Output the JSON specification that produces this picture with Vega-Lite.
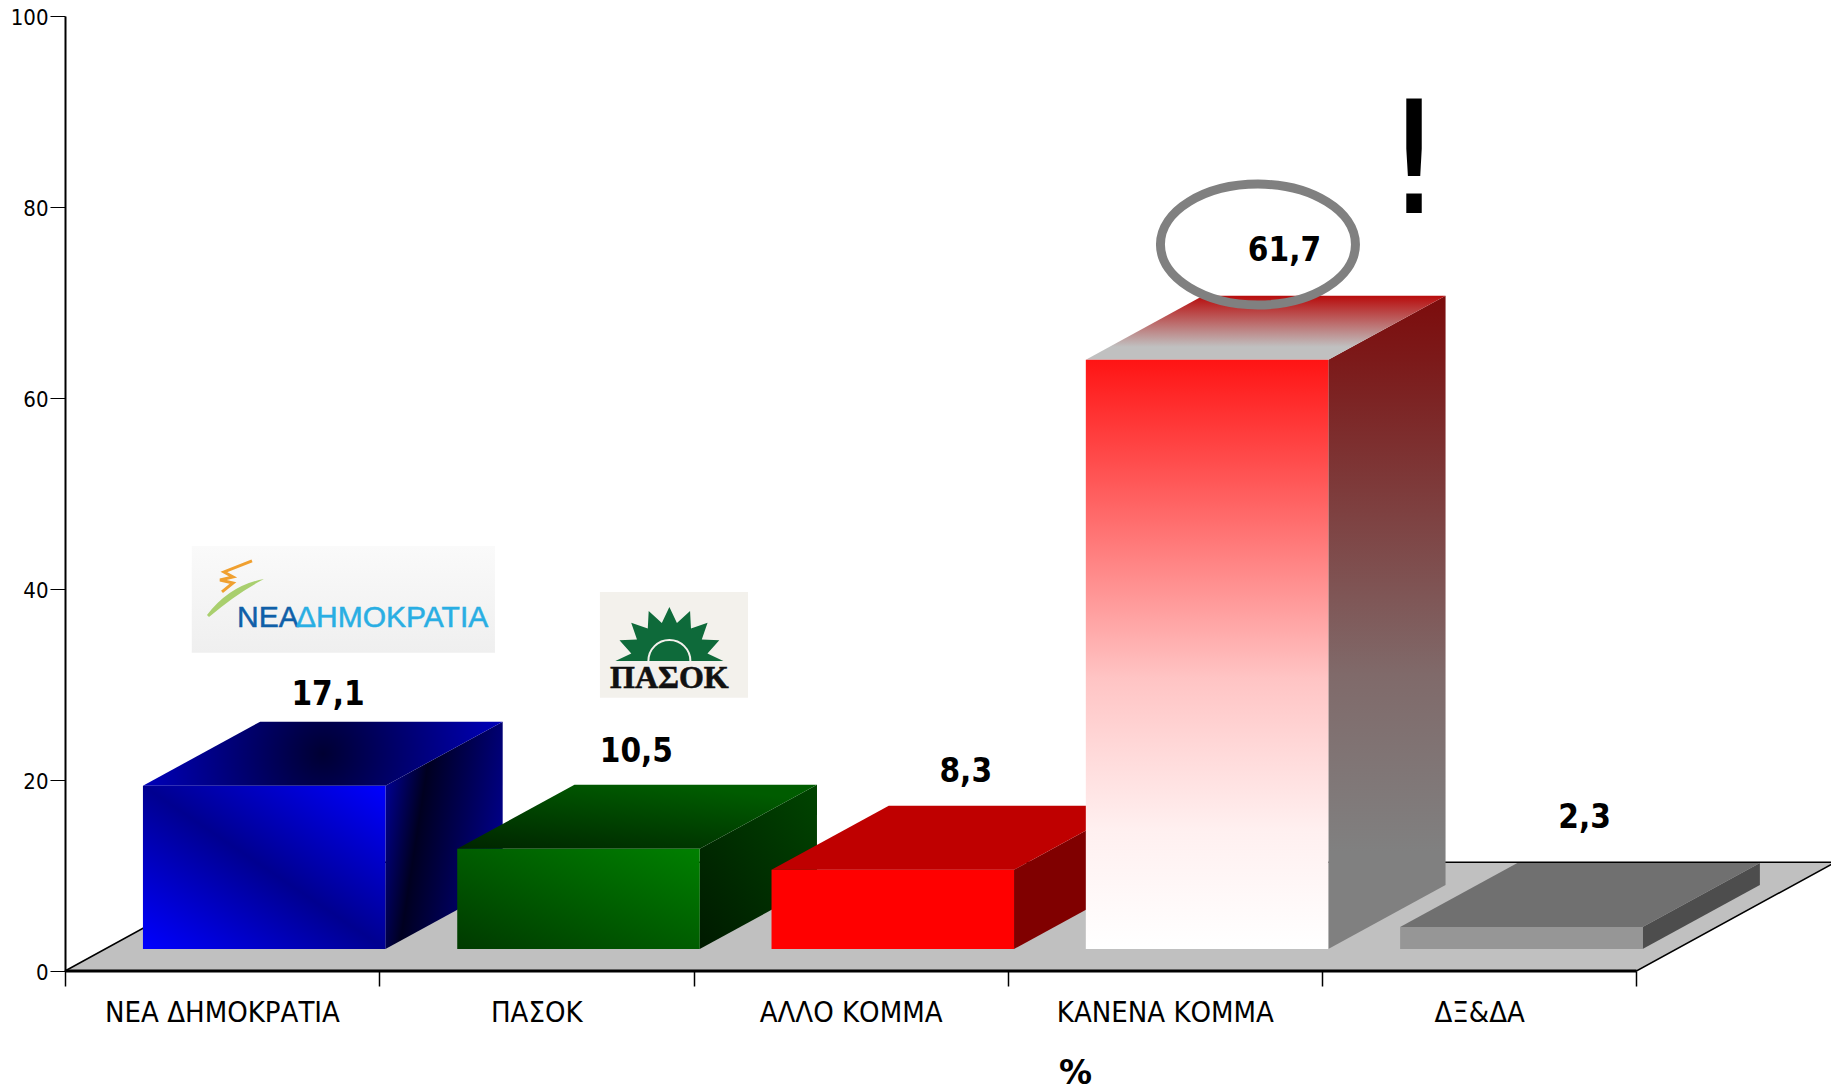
{"width":1766,"height":955,"autosize":{"type":"none"},"padding":{"left":65,"top":16,"right":0,"bottom":117},"background":"#ffffff","config":{"view":{"stroke":null},"font":"DejaVu Sans Condensed"},
"data":{"values":[{"category":"ΝΕΑ ΔΗΜΟΚΡΑΤΙΑ","order":0,"value":17.1},{"category":"ΠΑΣΟΚ","order":1,"value":10.5},{"category":"ΑΛΛΟ ΚΟΜΜΑ","order":2,"value":8.3},{"category":"ΚΑΝΕΝΑ ΚΟΜΜΑ","order":3,"value":61.7},{"category":"ΔΞ&ΔΑ","order":4,"value":2.3}]},
"transform":[{"calculate":"[0,1]","as":"t"},{"flatten":["t"]},{"calculate":"datum.order+0.248","as":"frontX"},{"calculate":"datum.frontX+0.7716","as":"frontX2"},{"calculate":"2.3","as":"base"},{"calculate":"datum.value+datum.base","as":"frontTop"},{"calculate":"datum.frontX2+datum.t*0.373","as":"sideX"},{"calculate":"datum.base+datum.t*6.7","as":"sideLow"},{"calculate":"datum.frontTop+datum.t*6.7","as":"sideHigh"},{"calculate":"datum.frontX+datum.t*0.373","as":"topX"},{"calculate":"datum.topX+0.7716","as":"topX2"}],
"layer":[
{"data":{"values":[{"y":0,"x":0,"x2":5},{"y":11.4,"x":0.633,"x2":5.633}]},"mark":{"type":"area","orient":"horizontal","fill":"#c0c0c0","stroke":"#000000","strokeWidth":1.5},"encoding":{"x":{"field":"x","type":"quantitative","scale":{"domain":[0,5.619],"nice":false,"zero":false},"axis":{"values":[0,1,2,3,4,5],"grid":false,"domain":false,"title":"%","titleFont":"DejaVu Sans","titleFontWeight":"bold","titleFontSize":33,"titleColor":"#000000","titleX":1010,"titleY":102,"titleAlign":"center","titleBaseline":"middle","labelAngle":0,"labelFont":"DejaVu Sans Condensed","labelFontSize":29,"labelColor":"#000000","labelPadding":12,"labelOffset":157,"labelLimit":500,"labelExpr":"['ΝΕΑ ΔΗΜΟΚΡΑΤΙΑ','ΠΑΣΟΚ','ΑΛΛΟ ΚΟΜΜΑ','ΚΑΝΕΝΑ ΚΟΜΜΑ','ΔΞ&ΔΑ',''][datum.value]","labelOverlap":false,"labelBound":false,"labelFlush":false,"tickSize":15,"tickColor":"#000000","tickWidth":1.5,"zindex":1}},"x2":{"field":"x2"},"y":{"field":"y","type":"quantitative","scale":{"domain":[0,100],"nice":false},"axis":{"values":[0,20,40,60,80,100],"grid":false,"title":null,"tickSize":15,"tickColor":"#000000","domainColor":"#000000","domainWidth":2,"labelFont":"DejaVu Sans Condensed","labelFontSize":22,"labelColor":"#000000","labelPadding":2,"labelOffset":1,"labelBound":false,"labelFlush":false,"zindex":1}}}},
{"data":{"values":[{"x":0,"x2":5,"y":0}]},"mark":{"type":"rule","stroke":"#000000","strokeWidth":3},"encoding":{"x":{"field":"x","type":"quantitative","scale":{"domain":[0,5.619],"nice":false,"zero":false}},"x2":{"field":"x2"},"y":{"field":"y","type":"quantitative","scale":{"domain":[0,100],"nice":false}}}},

{"transform":[{"filter":"datum.order==0"}],"mark":{"type":"area","orient":"vertical","fill":{"gradient":"linear","x1":0,"y1":0.3,"x2":1,"y2":0.6,"stops":[{"offset":0,"color":"#000090"},{"offset":0.3,"color":"#000020"},{"offset":1,"color":"#00008c"}]}},"encoding":{"x":{"field":"sideX","type":"quantitative","scale":{"domain":[0,5.619],"nice":false,"zero":false}},"y":{"field":"sideHigh","type":"quantitative","scale":{"domain":[0,100],"nice":false}},"y2":{"field":"sideLow"}}},
{"transform":[{"filter":"datum.order==0"}],"mark":{"type":"area","orient":"horizontal","fill":{"gradient":"radial","x1":0.5,"y1":0.5,"r1":0,"x2":0.5,"y2":0.5,"r2":0.65,"stops":[{"offset":0,"color":"#000033"},{"offset":1,"color":"#0000e0"}]}},"encoding":{"x":{"field":"topX","type":"quantitative","scale":{"domain":[0,5.619],"nice":false,"zero":false}},"x2":{"field":"topX2"},"y":{"field":"sideHigh","type":"quantitative","scale":{"domain":[0,100],"nice":false}}}},
{"transform":[{"filter":"datum.order==0 && datum.t==0"}],"mark":{"type":"rect","fill":{"gradient":"linear","x1":0,"y1":1,"x2":1,"y2":0,"stops":[{"offset":0,"color":"#0000ff"},{"offset":0.5,"color":"#000090"},{"offset":1,"color":"#0000ff"}]}},"encoding":{"x":{"field":"frontX","type":"quantitative","scale":{"domain":[0,5.619],"nice":false,"zero":false}},"x2":{"field":"frontX2"},"y":{"field":"frontTop","type":"quantitative","scale":{"domain":[0,100],"nice":false}},"y2":{"field":"base"}}},

{"transform":[{"filter":"datum.order==1"}],"mark":{"type":"area","orient":"vertical","fill":{"gradient":"linear","x1":0,"y1":1,"x2":1,"y2":0,"stops":[{"offset":0,"color":"#001a00"},{"offset":1,"color":"#004400"}]}},"encoding":{"x":{"field":"sideX","type":"quantitative","scale":{"domain":[0,5.619],"nice":false,"zero":false}},"y":{"field":"sideHigh","type":"quantitative","scale":{"domain":[0,100],"nice":false}},"y2":{"field":"sideLow"}}},
{"transform":[{"filter":"datum.order==1"}],"mark":{"type":"area","orient":"horizontal","fill":{"gradient":"linear","x1":0,"y1":1,"x2":0.6,"y2":0,"stops":[{"offset":0,"color":"#002500"},{"offset":1,"color":"#005c00"}]}},"encoding":{"x":{"field":"topX","type":"quantitative","scale":{"domain":[0,5.619],"nice":false,"zero":false}},"x2":{"field":"topX2"},"y":{"field":"sideHigh","type":"quantitative","scale":{"domain":[0,100],"nice":false}}}},
{"transform":[{"filter":"datum.order==1 && datum.t==0"}],"mark":{"type":"rect","fill":{"gradient":"linear","x1":0,"y1":1,"x2":1,"y2":0,"stops":[{"offset":0,"color":"#003a00"},{"offset":1,"color":"#008000"}]}},"encoding":{"x":{"field":"frontX","type":"quantitative","scale":{"domain":[0,5.619],"nice":false,"zero":false}},"x2":{"field":"frontX2"},"y":{"field":"frontTop","type":"quantitative","scale":{"domain":[0,100],"nice":false}},"y2":{"field":"base"}}},

{"transform":[{"filter":"datum.order==2"}],"mark":{"type":"area","orient":"vertical","fill":"#800000"},"encoding":{"x":{"field":"sideX","type":"quantitative","scale":{"domain":[0,5.619],"nice":false,"zero":false}},"y":{"field":"sideHigh","type":"quantitative","scale":{"domain":[0,100],"nice":false}},"y2":{"field":"sideLow"}}},
{"transform":[{"filter":"datum.order==2"}],"mark":{"type":"area","orient":"horizontal","fill":"#bf0000"},"encoding":{"x":{"field":"topX","type":"quantitative","scale":{"domain":[0,5.619],"nice":false,"zero":false}},"x2":{"field":"topX2"},"y":{"field":"sideHigh","type":"quantitative","scale":{"domain":[0,100],"nice":false}}}},
{"transform":[{"filter":"datum.order==2 && datum.t==0"}],"mark":{"type":"rect","fill":"#ff0000"},"encoding":{"x":{"field":"frontX","type":"quantitative","scale":{"domain":[0,5.619],"nice":false,"zero":false}},"x2":{"field":"frontX2"},"y":{"field":"frontTop","type":"quantitative","scale":{"domain":[0,100],"nice":false}},"y2":{"field":"base"}}},

{"transform":[{"filter":"datum.order==3"}],"mark":{"type":"area","orient":"vertical","fill":{"gradient":"linear","x1":0,"y1":0,"x2":0,"y2":1,"stops":[{"offset":0,"color":"#7c0c0c"},{"offset":0.1,"color":"#7c1a1a"},{"offset":0.58,"color":"#806a6a"},{"offset":0.85,"color":"#808080"},{"offset":1,"color":"#808080"}]}},"encoding":{"x":{"field":"sideX","type":"quantitative","scale":{"domain":[0,5.619],"nice":false,"zero":false}},"y":{"field":"sideHigh","type":"quantitative","scale":{"domain":[0,100],"nice":false}},"y2":{"field":"sideLow"}}},
{"transform":[{"filter":"datum.order==3"}],"mark":{"type":"area","orient":"horizontal","fill":{"gradient":"linear","x1":0,"y1":0,"x2":0,"y2":1,"stops":[{"offset":0,"color":"#b80c0c"},{"offset":0.8,"color":"#c0c0c0"},{"offset":1,"color":"#c0c0c0"}]}},"encoding":{"x":{"field":"topX","type":"quantitative","scale":{"domain":[0,5.619],"nice":false,"zero":false}},"x2":{"field":"topX2"},"y":{"field":"sideHigh","type":"quantitative","scale":{"domain":[0,100],"nice":false}}}},
{"transform":[{"filter":"datum.order==3 && datum.t==0"}],"mark":{"type":"rect","fill":{"gradient":"linear","x1":0,"y1":0,"x2":0,"y2":1,"stops":[{"offset":0,"color":"#ff1414"},{"offset":0.54,"color":"#ffc4c4"},{"offset":0.8,"color":"#fff0f0"},{"offset":1,"color":"#ffffff"}]}},"encoding":{"x":{"field":"frontX","type":"quantitative","scale":{"domain":[0,5.619],"nice":false,"zero":false}},"x2":{"field":"frontX2"},"y":{"field":"frontTop","type":"quantitative","scale":{"domain":[0,100],"nice":false}},"y2":{"field":"base"}}},

{"transform":[{"filter":"datum.order==4"}],"mark":{"type":"area","orient":"vertical","fill":"#4d4d4d"},"encoding":{"x":{"field":"sideX","type":"quantitative","scale":{"domain":[0,5.619],"nice":false,"zero":false}},"y":{"field":"sideHigh","type":"quantitative","scale":{"domain":[0,100],"nice":false}},"y2":{"field":"sideLow"}}},
{"transform":[{"filter":"datum.order==4"}],"mark":{"type":"area","orient":"horizontal","fill":"#707070"},"encoding":{"x":{"field":"topX","type":"quantitative","scale":{"domain":[0,5.619],"nice":false,"zero":false}},"x2":{"field":"topX2"},"y":{"field":"sideHigh","type":"quantitative","scale":{"domain":[0,100],"nice":false}}}},
{"transform":[{"filter":"datum.order==4 && datum.t==0"}],"mark":{"type":"rect","fill":"#969696"},"encoding":{"x":{"field":"frontX","type":"quantitative","scale":{"domain":[0,5.619],"nice":false,"zero":false}},"x2":{"field":"frontX2"},"y":{"field":"frontTop","type":"quantitative","scale":{"domain":[0,100],"nice":false}},"y2":{"field":"base"}}},

{"data":{"values":[{"x":3.7957,"y":76.07}]},"mark":{"type":"point","shape":"M-1 0 A1 0.62 0 1 1 1 0 A1 0.62 0 1 1 -1 0 Z","size":38025,"filled":false,"stroke":"#808080","strokeWidth":9,"opacity":1},"encoding":{"x":{"field":"x","type":"quantitative","scale":{"domain":[0,5.619],"nice":false,"zero":false}},"y":{"field":"y","type":"quantitative","scale":{"domain":[0,100],"nice":false}}}},

{"data":{"values":[{"label":"17,1","x":0.837,"y":28.92},{"label":"10,5","x":1.818,"y":22.92},{"label":"8,3","x":2.866,"y":20.82},{"label":"61,7","x":3.88,"y":75.42},{"label":"2,3","x":4.835,"y":16.02}]},"mark":{"type":"text","font":"DejaVu Sans Condensed","fontWeight":"bold","fontSize":33,"color":"#000000","baseline":"middle","align":"center"},"encoding":{"x":{"field":"x","type":"quantitative","scale":{"domain":[0,5.619],"nice":false,"zero":false}},"y":{"field":"y","type":"quantitative","scale":{"domain":[0,100],"nice":false}},"text":{"field":"label"}}},
{"data":{"values":[{"label":"!","x":4.292,"y":79.4}]},"mark":{"type":"text","font":"DejaVu Sans","fontSize":156,"color":"#000000","baseline":"alphabetic","align":"center"},"encoding":{"x":{"field":"x","type":"quantitative","scale":{"domain":[0,5.619],"nice":false,"zero":false}},"y":{"field":"y","type":"quantitative","scale":{"domain":[0,100],"nice":false}},"text":{"field":"label"}}},

{"data":{"values":[{"x":0.4034,"x2":1.368,"y":44.5,"y2":33.33}]},"mark":{"type":"rect","fill":{"gradient":"linear","x1":0,"y1":0,"x2":0,"y2":1,"stops":[{"offset":0,"color":"#fafafa"},{"offset":1,"color":"#efefef"}]}},"encoding":{"x":{"field":"x","type":"quantitative","scale":{"domain":[0,5.619],"nice":false,"zero":false}},"x2":{"field":"x2"},"y":{"field":"y","type":"quantitative","scale":{"domain":[0,100],"nice":false}},"y2":{"field":"y2"}}},
{"data":{"values":[{"label":"ΝΕΑ","x":0.5475,"y":35.99}]},"mark":{"type":"text","font":"Liberation Sans","fontSize":30,"color":"#0f5fa8","stroke":"#0f5fa8","strokeWidth":0.5,"align":"left","baseline":"alphabetic"},"encoding":{"x":{"field":"x","type":"quantitative","scale":{"domain":[0,5.619],"nice":false,"zero":false}},"y":{"field":"y","type":"quantitative","scale":{"domain":[0,100],"nice":false}},"text":{"field":"label"}}},
{"data":{"values":[{"label":"ΔΗΜΟΚΡΑΤΙΑ","x":0.735,"y":35.99}]},"mark":{"type":"text","font":"Liberation Sans","fontSize":30,"color":"#29aee3","stroke":"#29aee3","strokeWidth":0.5,"align":"left","baseline":"alphabetic"},"encoding":{"x":{"field":"x","type":"quantitative","scale":{"domain":[0,5.619],"nice":false,"zero":false}},"y":{"field":"y","type":"quantitative","scale":{"domain":[0,100],"nice":false}},"text":{"field":"label"}}},
{"data":{"values":[{"x":0.5409,"y":39.16}]},"mark":{"type":"point","shape":"M-28 18 Q-5 -12 29 -18 Q2 -4 -26 20 Z","size":4,"filled":true,"fill":"#a9cf6e","opacity":1},"encoding":{"x":{"field":"x","type":"quantitative","scale":{"domain":[0,5.619],"nice":false,"zero":false}},"y":{"field":"y","type":"quantitative","scale":{"domain":[0,100],"nice":false}}}},
{"data":{"values":[{"x":0.5409,"y":41.47}]},"mark":{"type":"point","shape":"M17 -14 L-11 -3 L-2 2 L-15 5 L-2 8 L-13 17","size":4,"filled":false,"stroke":"#f0a030","strokeWidth":3,"opacity":1},"encoding":{"x":{"field":"x","type":"quantitative","scale":{"domain":[0,5.619],"nice":false,"zero":false}},"y":{"field":"y","type":"quantitative","scale":{"domain":[0,100],"nice":false}}}},

{"data":{"values":[{"x":1.702,"x2":2.173,"y":39.69,"y2":28.62}]},"mark":{"type":"rect","fill":"#f3f1ec"},"encoding":{"x":{"field":"x","type":"quantitative","scale":{"domain":[0,5.619],"nice":false,"zero":false}},"x2":{"field":"x2"},"y":{"field":"y","type":"quantitative","scale":{"domain":[0,100],"nice":false}},"y2":{"field":"y2"}}},
{"data":{"values":[{"x":1.923,"y":32.46}]},"mark":{"type":"point","shape":"M-1 0 L-0.705 -0.14 L-0.924 -0.383 L-0.6 -0.4 L-0.707 -0.707 L-0.4 -0.6 L-0.383 -0.924 L-0.14 -0.705 L0 -1 L0.14 -0.705 L0.383 -0.924 L0.4 -0.6 L0.707 -0.707 L0.6 -0.4 L0.924 -0.383 L0.705 -0.14 L1 0 Z","size":11664,"filled":true,"fill":"#0e6a3a","opacity":1},"encoding":{"x":{"field":"x","type":"quantitative","scale":{"domain":[0,5.619],"nice":false,"zero":false}},"y":{"field":"y","type":"quantitative","scale":{"domain":[0,100],"nice":false}}}},
{"data":{"values":[{"x":1.923,"y":32.46}]},"mark":{"type":"point","shape":"M-1 0 A1 1 0 0 1 1 0","size":1764,"filled":false,"stroke":"#f3f1ec","strokeWidth":2,"opacity":1},"encoding":{"x":{"field":"x","type":"quantitative","scale":{"domain":[0,5.619],"nice":false,"zero":false}},"y":{"field":"y","type":"quantitative","scale":{"domain":[0,100],"nice":false}}}},
{"data":{"values":[{"label":"ΠΑΣΟΚ","x":1.923,"y":29.63}]},"mark":{"type":"text","font":"Liberation Serif","fontWeight":"bold","fontSize":32,"color":"#111111","stroke":"#111111","strokeWidth":0.6,"align":"center","baseline":"alphabetic"},"encoding":{"x":{"field":"x","type":"quantitative","scale":{"domain":[0,5.619],"nice":false,"zero":false}},"y":{"field":"y","type":"quantitative","scale":{"domain":[0,100],"nice":false}},"text":{"field":"label"}}}
]}
